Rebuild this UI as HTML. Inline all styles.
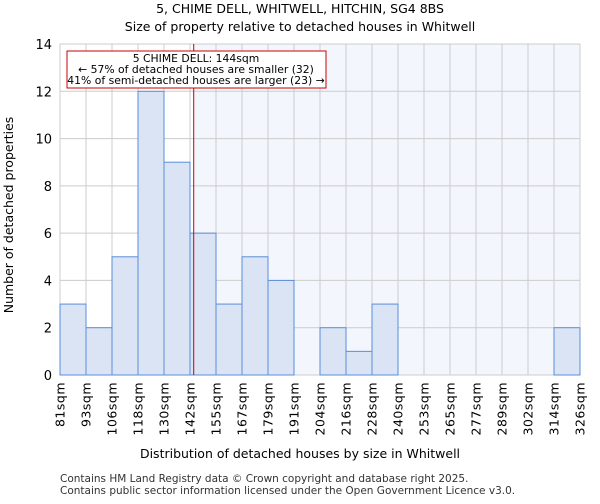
<!DOCTYPE html>
<html><head><meta charset="utf-8"><style>
body{margin:0;background:#fff;font-family:"DejaVu Sans","Liberation Sans",sans-serif}
</style></head><body>
<svg id="c" width="600" height="500" xmlns="http://www.w3.org/2000/svg" font-family="DejaVu Sans, Liberation Sans, sans-serif">
<text x="300" y="13" text-anchor="middle" font-size="12.5">5, CHIME DELL, WHITWELL, HITCHIN, SG4 8BS</text>
<text x="300" y="31" text-anchor="middle" font-size="12.5">Size of property relative to detached houses in Whitwell</text>
<g id="plot"></g>
<text x="300" y="458" text-anchor="middle" font-size="12.5">Distribution of detached houses by size in Whitwell</text>
<text transform="translate(13,215) rotate(-90)" text-anchor="middle" font-size="12.5">Number of detached properties</text>
<text x="60" y="482" font-size="10.5" fill="#333">Contains HM Land Registry data © Crown copyright and database right 2025.</text>
<text x="60" y="494" font-size="10.5" fill="#333">Contains public sector information licensed under the Open Government Licence v3.0.</text>
</svg>
<script>
const categories=["81sqm","93sqm","106sqm","118sqm","130sqm","142sqm","155sqm","167sqm","179sqm","191sqm","204sqm","216sqm","228sqm","240sqm","253sqm","265sqm","277sqm","289sqm","302sqm","314sqm","326sqm"];
const counts=[3,2,5,12,9,6,3,5,4,0,2,1,3,0,0,0,0,0,0,2];
const yTicks=[0,2,4,6,8,10,12,14];
const markerValue=144;
const binStart=81, binWidth=12.25;
const L=60,R=580,T=44,B=375,yMax=14;
const NS="http://www.w3.org/2000/svg";
const g=document.getElementById('plot');
const bw=(R-L)/counts.length;
const xi=i=>L+i*bw;
const xv=v=>L+(v-binStart)/binWidth*bw;
const y=v=>B-v/yMax*(B-T);
function el(t,a){const e=document.createElementNS(NS,t);for(const k in a)e.setAttribute(k,a[k]);g.appendChild(e);return e;}
const mx=xv(markerValue);
let e=el('rect',{x:mx,y:T,width:R-mx,height:B-T,fill:'#f3f6fd'});


for(let i=0;i<=counts.length;i++){e=el('line',{x1:xi(i),x2:xi(i),y1:T,y2:B,stroke:'#ccc','stroke-width':1});

}
yTicks.forEach(t=>{e=el('line',{x1:L,x2:R,y1:y(t),y2:y(t),stroke:'#ccc','stroke-width':1});


e=el('text',{x:L-8,y:y(t)+5,'text-anchor':'end','font-size':13});e.textContent=t;

});
counts.forEach((c,i)=>{if(c>0){e=el('rect',{x:xi(i),y:y(c),width:bw,height:B-y(c),fill:'#dae4f4',stroke:'#5a8ed8','stroke-width':1});

}});
categories.forEach((c,i)=>{e=el('text',{transform:`translate(${xi(i)+4.5},382) rotate(-90)`,'text-anchor':'end','font-size':12.5,'letter-spacing':'0.5'});e.textContent=c;

});
e=el('line',{x1:mx,x2:mx,y1:T,y2:B,stroke:'#cc0000','stroke-width':1});


e=el('rect',{x:67,y:51,width:259,height:37,fill:'#fff',stroke:'#cc0000','stroke-width':1});


[["5 CHIME DELL: 144sqm",62],["← 57% of detached houses are smaller (32)",73],["41% of semi-detached houses are larger (23) →",84]].forEach(([t,yy])=>{e=el('text',{x:196,y:yy,'text-anchor':'middle','font-size':10.8});e.textContent=t;

});
</script>
</body></html>
